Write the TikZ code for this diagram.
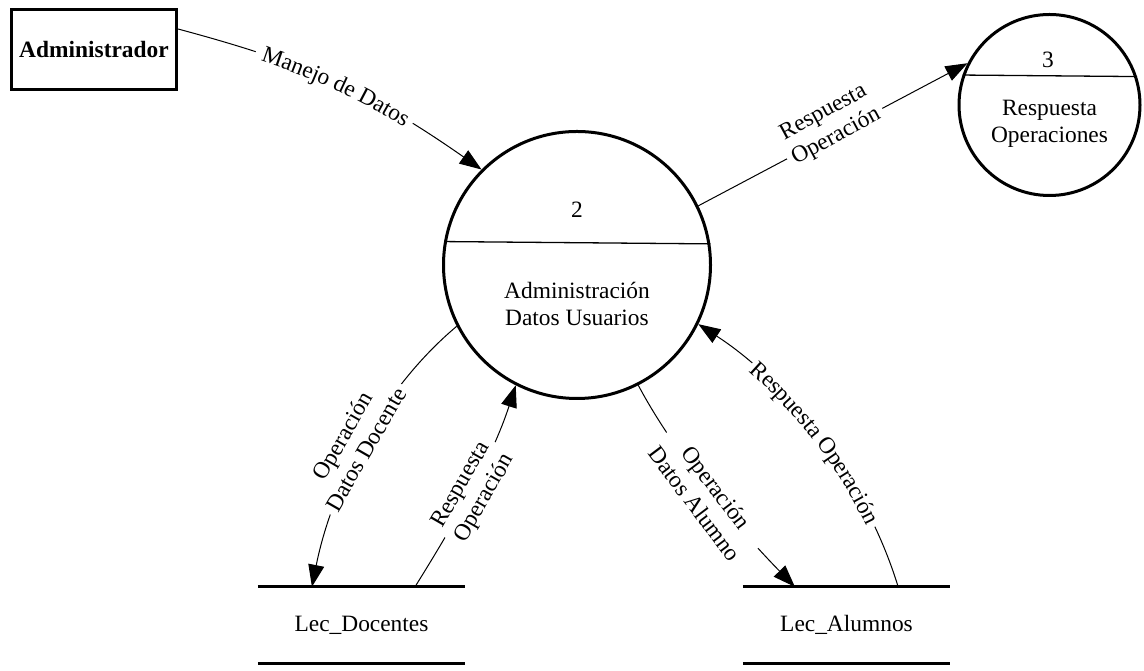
\documentclass[tikz,border=0pt]{standalone}
\usepackage{fontspec}
\setmainfont{Liberation Serif}
\usetikzlibrary{arrows.meta,calc,decorations.text}
\newcommand\dfdfont{\fontsize{23.4}{27}\selectfont}

\begin{document}
\begin{tikzpicture}[x=1pt,y=1pt,
  font=\dfdfont,
  entity/.style={draw, line width=3pt, minimum width=165pt, minimum height=80pt,
    inner sep=0pt, font=\dfdfont\bfseries},
  process/.style={draw, circle, line width=3pt, inner sep=0pt},
  divider/.style={line width=1.3pt},
  store/.style={minimum width=207pt, minimum height=76pt, inner sep=0pt},
  storeline/.style={line width=3pt},
  flow/.style={line width=1pt, -{Triangle[length=22pt,width=16pt]}},
  flowlabel/.style={fill=white, inner xsep=5pt, inner ysep=1pt, align=center},
  pathlabel/.style={decorate, decoration={text along path, text align=center,
    raise=-7pt, text={|\dfdfont|#1}}}
]
\fill[white] (0,0) rectangle (1144,671);
\useasboundingbox (0,0) rectangle (1144,671);

% external entity
\node[entity] (adm) at (94,621.5) {Administrador};

% processes
\node[process, minimum size=267pt] (c2) at (577,406) {};
\draw[divider] (c2.170.62) -- (c2.9.38);
\node (n2) at (577,461) {2};
\node[align=center] (t2) at (577,367.5) {Administración\\Datos Usuarios};

\node[process, minimum size=181pt] (c3) at (1049.5,566) {};
\draw[divider] (c3.161.63) -- (c3.18.37);
\node (n3) at (1048,611) {3};
\node[align=center] (t3) at (1049.5,547.5) {Respuesta\\Operaciones};

% data stores
\node[store] (ld) at (361.5,46) {Lec\_Docentes};
\draw[storeline] (ld.north west) -- (ld.north east);
\draw[storeline] (ld.south west) -- (ld.south east);
\node[store] (la) at (846.5,46) {Lec\_Alumnos};
\draw[storeline] (la.north west) -- (la.north east);
\draw[storeline] (la.south west) -- (la.south east);

\coordinate (ldA) at ($(ld.north west)!0.261!(ld.north east)$);
\coordinate (ldB) at ($(ld.north west)!0.758!(ld.north east)$);
\coordinate (laA) at ($(la.north west)!0.251!(la.north east)$);
\coordinate (laB) at ($(la.north west)!0.749!(la.north east)$);
\coordinate (admOut) at ([yshift=20.5pt]adm.east);

% Manejo de Datos
\draw[flow, dash pattern=on 81pt off 173pt on 1000pt]
  (admOut) to[out=-15,in=145,distance=135pt] (c2.135.6);
\path[pathlabel={Manejo de Datos}]
  (admOut) to[out=-15,in=145,distance=135pt] (c2.135.6);

% Respuesta Operacion to process 3
\draw[flow] (c2.26.2) -- (c3.153.7);
\node[flowlabel, rotate=28.5] (l2) at (830,546) {Respuesta\\Operación};

% Operacion Datos Docente
\draw[flow] (c2.207.7) to[out=220,in=78.7,distance=100pt] (ldA);
\node[flowlabel, rotate=60] (l3) at (354,228.5) {Operación\\Datos Docente};

% Respuesta Operacion from Lec_Docentes
\draw[flow] (ldB) to[out=58,in=252.2,distance=75pt] (c2.243);
\node[flowlabel, rotate=60] (l4) at (473.3,179.3) {Respuesta\\Operación};

% Operacion Datos Alumno
\draw[flow] (c2.-63) to[out=-62,in=134.3,distance=80pt] (laA);
\node[flowlabel, rotate=-53] (l5) at (705.5,175.5) {Operación\\Datos Alumno};

% Respuesta Operacion from Lec_Alumnos
\draw[flow, dash pattern=on 64.5pt off 206pt on 1000pt]
  (laB) to[out=107,in=-33,distance=110pt] (c2.-26.75);
\path[pathlabel={Respuesta Operación}]
  (c2.-26.75) to[out=-33,in=107,distance=110pt] (laB);
\end{tikzpicture}
\end{document}
